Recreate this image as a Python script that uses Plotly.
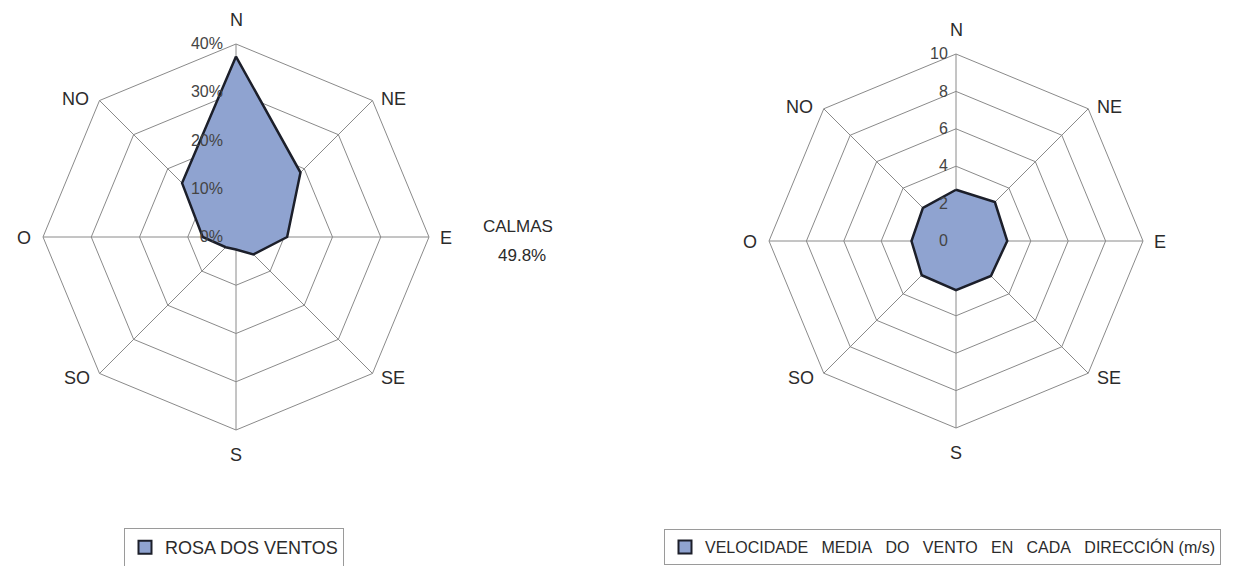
import math
import plotly.graph_objects as go

directions = ["N", "NE", "E", "SE", "S", "SO", "O", "NO"]
freq_pct = [37.4, 18.9, 10.6, 5.1, 2.6, 3.0, 6.9, 15.8]
speed_ms = [2.74, 2.94, 2.74, 2.64, 2.63, 2.59, 2.38, 2.50]
calmas_pct = 49.8

legend_left = "ROSA DOS VENTOS"
gap = "\u00a0" * 3
legend_right = gap.join(["VELOCIDADE", "MEDIA", "DO", "VENTO", "EN", "CADA", "DIRECCIÓN"]) + " (m/s)"

W, H = 1237, 566
OFF = 8  # default body margin of the html page
FILL = "#8fa3d0"
EDGE = "#1c1f2a"
GRID = "#8a8a8a"
TXT = "#2b2b2b"
FONT = "Liberation Sans, Arial, sans-serif"

# label offsets (px) from the outer octagon vertex, per direction
LABEL_OFFSET = {"N": (0, -24), "NE": (21, -2), "E": (17, 1), "SE": (21, 5),
                "S": (0, 25), "SO": (-23, 5), "O": (-19, 1), "NO": (-24, -2)}

def closed(v):
    return list(v) + [v[0]]

def X(px):
    return (px - OFF) / W

def Y(py):
    return 1 - (py - OFF) / H

fig = go.Figure()
fig.add_trace(go.Scatterpolar(
    r=closed(freq_pct), theta=closed(directions), subplot="polar",
    mode="lines", fill="toself", fillcolor=FILL,
    line=dict(color=EDGE, width=2.5), showlegend=False, hoverinfo="r+theta",
))
fig.add_trace(go.Scatterpolar(
    r=closed(speed_ms), theta=closed(directions), subplot="polar2",
    mode="lines", fill="toself", fillcolor=FILL,
    line=dict(color=EDGE, width=2.5), showlegend=False, hoverinfo="r+theta",
))
# legend entries (square swatches)
fig.add_trace(go.Scatterpolar(
    r=[None], theta=["N"], subplot="polar", mode="markers", name=legend_left, legend="legend",
    marker=dict(symbol="square", size=13, color=FILL, line=dict(color=EDGE, width=2)),
))
fig.add_trace(go.Scatterpolar(
    r=[None], theta=["N"], subplot="polar2", mode="markers", name=legend_right, legend="legend2",
    marker=dict(symbol="square", size=13, color=FILL, line=dict(color=EDGE, width=2)),
))

def polar_cfg(cx, cy, r, rng, dtick, suffix, standoff):
    return dict(
        domain=dict(x=[X(cx - r), X(cx + r)], y=[Y(cy + r), Y(cy - r)]),
        gridshape="linear",
        bgcolor="white",
        angularaxis=dict(direction="clockwise", rotation=90, categoryorder="array",
                         categoryarray=directions, showline=True, linecolor=GRID,
                         linewidth=1, gridcolor=GRID, gridwidth=1, ticks="",
                         showticklabels=False),
        radialaxis=dict(range=rng, dtick=dtick, tick0=0, ticksuffix=suffix, angle=90,
                        showline=False, gridcolor=GRID, gridwidth=1,
                        ticks="outside", ticklen=standoff, tickcolor="rgba(0,0,0,0)",
                        tickangle=90, side="counterclockwise",
                        tickfont=dict(size=16, color="#444444", family=FONT)),
    )

def compass_labels(cx, cy, r):
    out = []
    for i, d in enumerate(directions):
        a = math.radians(45 * i)
        vx, vy = cx + r * math.sin(a), cy - r * math.cos(a)
        dx, dy = LABEL_OFFSET[d]
        out.append(dict(text=d, x=X(vx + dx), y=Y(vy + dy), xref="paper", yref="paper",
                        showarrow=False, xanchor="center", yanchor="middle",
                        font=dict(size=18, color=TXT, family=FONT)))
    return out

annotations = compass_labels(236, 237, 193) + compass_labels(956, 241, 187) + [
    dict(text="CALMAS", x=X(518), y=Y(226), xref="paper", yref="paper",
         showarrow=False, font=dict(size=17, color=TXT, family=FONT)),
    dict(text=f"{calmas_pct}%", x=X(522), y=Y(255), xref="paper", yref="paper",
         showarrow=False, font=dict(size=17, color=TXT, family=FONT)),
]

fig.update_layout(
    width=W, height=H,
    margin=dict(l=0, r=0, t=0, b=0),
    paper_bgcolor="white", plot_bgcolor="white",
    font=dict(family=FONT, color=TXT),
    polar=polar_cfg(236, 237, 193, [0, 40], 10, "%", 7),
    polar2=polar_cfg(956, 241, 187, [0, 10], 2, "", 2),
    legend=dict(x=X(124), y=Y(528), xanchor="left", yanchor="top",
                bordercolor="#9a9a9a", borderwidth=1, bgcolor="white",
                font=dict(size=18, color=TXT, family=FONT), itemwidth=30),
    legend2=dict(x=X(664), y=Y(529), xanchor="left", yanchor="top",
                 bordercolor="#9a9a9a", borderwidth=1, bgcolor="white",
                 font=dict(size=16, color=TXT, family=FONT), itemwidth=30),
    showlegend=True,
    annotations=annotations,
)

fig.write_html("out.html")
